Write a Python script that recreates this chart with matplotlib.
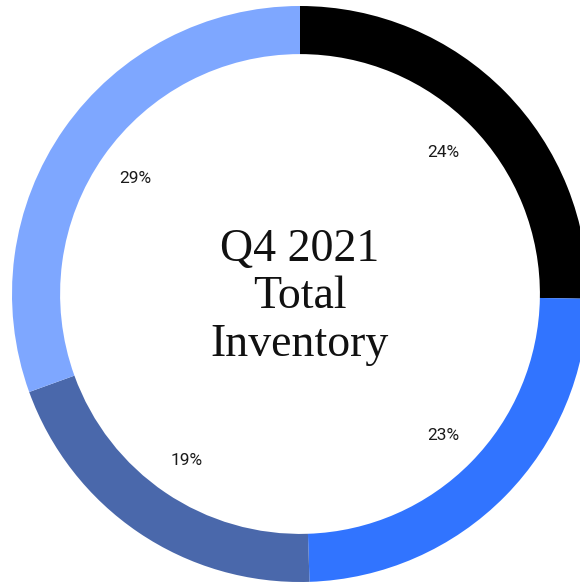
import matplotlib
matplotlib.use("Agg")
from matplotlib import pyplot as plt

# shares shown on the ring (they don't add up to 100, pie normalises them)
segments = ['A', 'B', 'C', 'D']
values = [24, 23, 19, 29]
colors = ['#000000', '#3174FF', '#4A68AB', '#7EA7FF']
title_lines = ['Q4 2021', 'Total', 'Inventory']

fig = plt.figure(figsize=(5.8, 5.86), dpi=100)
# square axes so the ring keeps its shape, slightly wider than the figure on the right
ax = fig.add_axes([12 / 580, 4 / 586, 576 / 580, 576 / 586])

wedges, texts, autotexts = ax.pie(
    values,
    colors=colors,
    startangle=90,
    counterclock=False,
    radius=1.0,
    wedgeprops=dict(width=0.167, linewidth=0),
    autopct=lambda p: '%d%%' % round(p * sum(values) / 100),
    pctdistance=0.70,
    textprops=dict(fontsize=12.5, family='Roboto', color='#1a1a1a'),
)

ax.text(0, -0.01, '\n'.join(title_lines), ha='center', va='center',
        fontsize=33, family='Liberation Serif', linespacing=1.15, color='#111111')

ax.set_xlim(-1, 1)
ax.set_ylim(-1, 1)
ax.set_aspect('equal')
ax.axis('off')

fig.savefig('out.png', dpi=100, facecolor='white')
